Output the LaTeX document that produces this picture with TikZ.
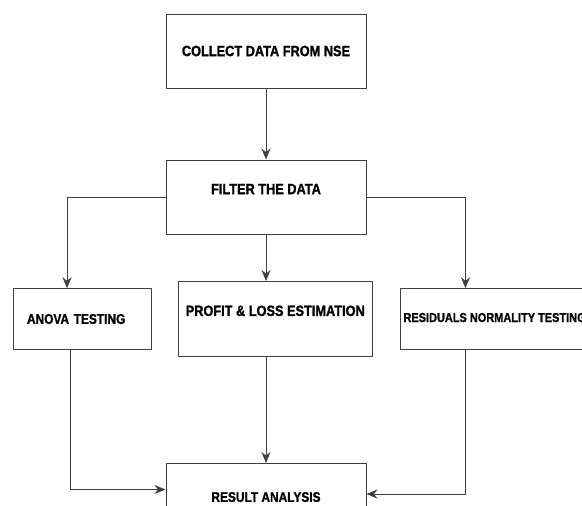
\documentclass[tikz,border=0pt]{standalone}
\usepackage{fontspec}
\newfontfamily\flowfont[FakeStretch=0.85, BoldFeatures={FakeBold=1.2}]{Liberation Sans}
\usetikzlibrary{arrows.meta}

\begin{document}
\begin{tikzpicture}[x=1pt, y=-1pt,
  box/.style={draw=black!75, line width=1pt, rectangle, inner sep=2pt,
    font=\flowfont\bfseries\fontsize{15}{17}\selectfont},
  small/.style={font=\flowfont\bfseries\fontsize{14}{16}\selectfont},
  arr/.style={draw=black!75, line width=1pt, -{Stealth[length=11pt, width=9pt]}}]
  \clip (0,0) rectangle (582,506);
  \fill[white] (0,0) rectangle (582,506);

  % Top of the flow
  \node[box, minimum width=200pt, minimum height=74pt] (collect) at (266,51) {COLLECT DATA FROM NSE};
  \node[box, minimum width=200pt, minimum height=74pt, text depth=16pt] (filter) at (266,197) {FILTER THE DATA};

  % Three branches
  \node[box, small, minimum width=138pt, minimum height=60.5pt, text width=110pt, align=left] (anova) at (82,319) {ANOVA TESTING};
  \node[box, minimum width=193.5pt, minimum height=74.5pt, text depth=16pt] (profit) at (275.25,318.75) {PROFIT \& LOSS ESTIMATION};
  \node[box, font=\flowfont\bfseries\fontsize{12.9}{15}\selectfont, anchor=west, inner xsep=3.5pt, minimum height=60.5pt, text depth=3pt] (resid) at (399.5,319) {RESIDUALS NORMALITY TESTING};

  % Bottom
  \node[box, small, minimum width=200pt, minimum height=73pt, text depth=6pt] (result) at (266,500) {RESULT ANALYSIS};

  % Connectors
  \draw[arr] (collect.south) -- (filter.north);
  \draw[arr] (filter.west) -| ([xshift=-15pt]anova.north);
  \draw[arr] (filter.south) -- (filter.south |- profit.north);
  \draw[arr] (filter.east) -| ([xshift=66pt]resid.north west);
  \draw[arr] ([xshift=-12pt]anova.south) |- ([yshift=10.5pt]result.west);
  \draw[arr] (profit.south -| result.north) -- (result.north);
  \draw[arr] ([xshift=66pt]resid.south west) |- ([yshift=6pt]result.east);
\end{tikzpicture}
\end{document}
